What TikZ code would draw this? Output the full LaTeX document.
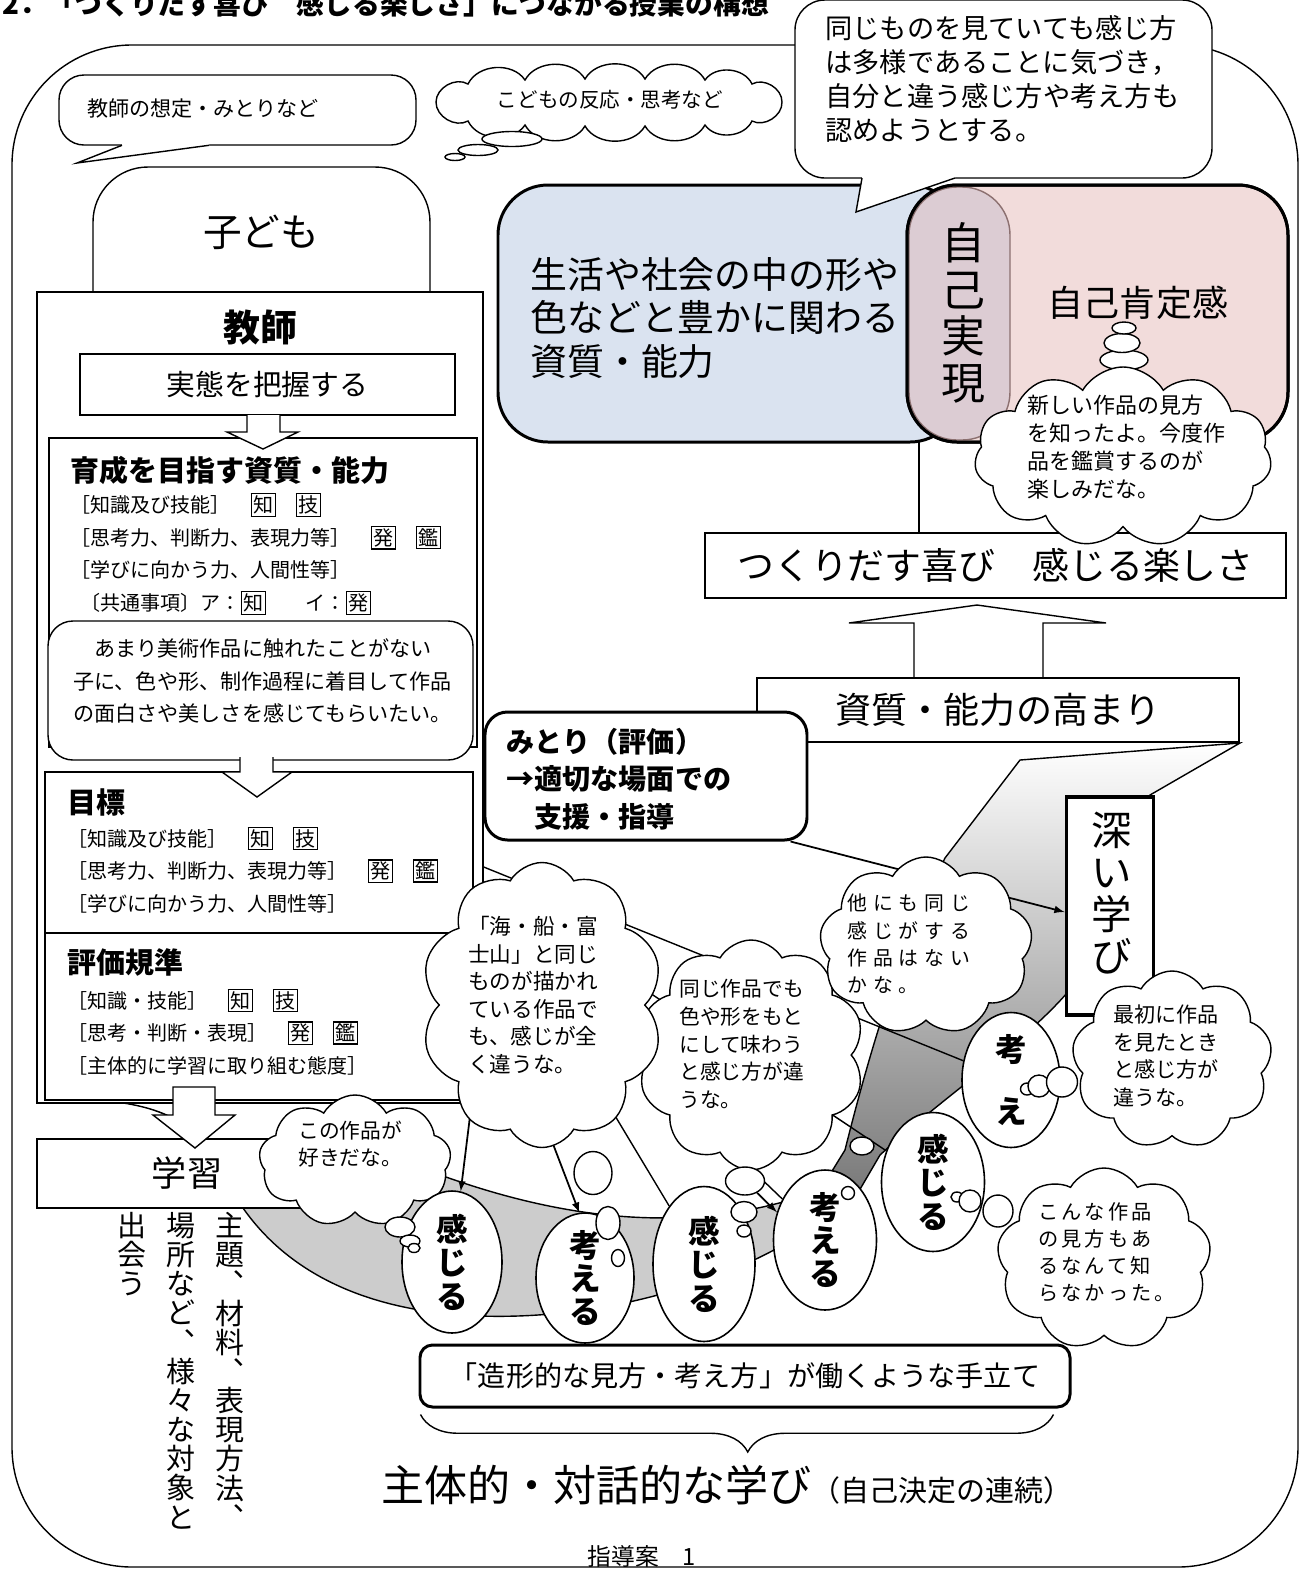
\documentclass[tikz,border=0pt]{standalone}
\usepackage{fontspec}
\setmainfont{Noto Sans CJK JP}
\usetikzlibrary{shapes.symbols,shapes.geometric,decorations.pathreplacing,calc,positioning,backgrounds}

\definecolor{bluebg}{RGB}{218,227,240}
\definecolor{pinkbg}{RGB}{242,220,219}
\definecolor{mauvebg}{RGB}{220,204,211}
\definecolor{mauveline}{RGB}{140,112,112}
\definecolor{riverbg}{RGB}{204,204,204}

\newcommand{\pu}{0.02cm}
\newcommand{\fs}[2]{\fontsize{#1}{#2}\selectfont}
\newcommand{\waku}[1]{{\setlength{\fboxsep}{0.8pt}\setlength{\fboxrule}{0.7pt}\fbox{#1}}}

\tikzset{
  wh/.style 2 args={minimum width=#1*\pu, minimum height=#2*\pu},
  box/.style={draw, fill=white, line width=0.8pt, inner sep=0pt},
  thickbox/.style={draw, fill=white, line width=1.7pt, inner sep=0pt},
  thought/.style={cloud, draw, fill=white, line width=0.8pt, cloud puffs=#1,
    cloud puff arc=120, cloud ignores aspect, inner sep=0pt},
  bub/.style={ellipse, draw, fill=white, line width=0.8pt, inner sep=0pt},
  egg/.style={ellipse, draw, fill=white, line width=0.9pt, inner sep=0pt},
  eggtxt/.style={align=center, inner sep=0pt, font=\bfseries\fs{18}{19}},
  tate/.style={align=center, inner sep=0pt},
  lefttxt/.style={anchor=west, align=left, inner sep=0pt},
  listtxt/.style={lefttxt, font=\fs{11.4}{18.6}},
  cloudtxt/.style={lefttxt, font=\fs{11.8}{15.7}},
  hollow/.style={draw, fill=white, line width=0.8pt},
  link/.style={line width=0.8pt},
  puff/.style={bend left=60},
  pointer/.style={-latex, line width=1pt},
}

\begin{document}
\begin{tikzpicture}[x=\pu, y=-\pu]
\useasboundingbox (0,0) rectangle (1301,1570);

% heading and frame
\node[lefttxt, font=\bfseries\fs{15.8}{15.8}] (title) at (2,4) {2．「つくりだす喜び　感じる楽しさ」につながる授業の構想};
\draw[link, rounded corners=2.4cm] (12,45) rectangle (1298,1567);

% top callouts
\node[box, rounded corners=0.5cm, wh={357}{70}] (yosou) at (237.5,110) {};
\fill[white] (122,140) -- (122,146) -- (77,163) -- (209,146) -- (209,140) -- cycle;
\draw[link] (122,145.3) -- (77,163) -- (209,145.3);
\node[font=\fs{12}{12}] (yosouTxt) at (203,109) {教師の想定・みとりなど};

\draw[link, fill=white] (436,102) to[puff] (468,84) to[puff] (525,80) to[puff] (585,79)
  to[puff] (645,79) to[puff] (705,80) to[puff] (752,84) to[puff] (782,102)
  to[puff] (752,121) to[puff] (705,125) to[puff] (645,126) to[puff] (585,126)
  to[puff] (525,125) to[puff] (468,121) to[puff] (436,102) -- cycle;
\node[font=\fs{11.7}{11.7}] (hannouTxt) at (610,100) {こどもの反応・思考など};
\node[bub, wh={60}{15}] (hb1) at (512,139) {};
\node[bub, wh={40}{11}] (hb2) at (478,150) {};
\node[bub, wh={20}{7}] (hb3) at (455,157) {};

% child / teacher column
\draw[box, rounded corners=1.1cm] (93,292) -- (93,167) -- (430,167) -- (430,292);
\node[font=\fs{22}{22}] (kodomo) at (261,232) {子ども};
\node[box, wh={446}{811}] (kyoushi) at (260,697.5) {};
\node[font=\bfseries\fs{21}{21}] (kyoushiTtl) at (260,328) {教師};
\node[box, wh={375}{61}, font=\fs{16.4}{16.4}] (jittai) at (267.5,384.5) {実態を把握する};

\node[box, wh={428}{309}] (ikusei) at (263,592.5) {};
\draw[hollow] (247,415) -- (247,432) -- (227,432) -- (263,449) -- (298,432) -- (280,432) -- (280,415);
\node[lefttxt, font=\bfseries\fs{16.5}{16.5}] (ikuseiTtl) at (70,470) {育成を目指す資質・能力};
\node[listtxt] (ikuseiTxt) at (70,554) {［知識及び技能］\quad\waku{知}\quad\waku{技}\\［思考力、判断力、表現力等］\quad\waku{発}\quad\waku{鑑}\\［学びに向かう力、人間性等］\\\hspace{0.5em}〔共通事項〕ア：\waku{知}　　イ：\waku{発}};

\node[box, rounded corners=0.5cm, wh={425}{139}] (negai) at (260.5,690.5) {};
\node[lefttxt, font=\fs{12}{18.4}] (negaiTxt) at (73,681) {　あまり美術作品に触れたことがない\\子に、色や形、制作過程に着目して作品\\の面白さや美しさを感じてもらいたい。};

\node[box, wh={428}{161}] (mokuhyou) at (259,852.5) {};
\draw[hollow] (240,757) -- (240,772) -- (222,772) -- (257,797) -- (292,772) -- (273,772) -- (273,757);
\node[lefttxt, font=\bfseries\fs{16.5}{16.5}] (mokuhyouTtl) at (67,802) {目標};
\node[listtxt] (mokuhyouTxt) at (67,870) {［知識及び技能］\quad\waku{知}\quad\waku{技}\\［思考力、判断力、表現力等］\quad\waku{発}\quad\waku{鑑}\\［学びに向かう力、人間性等］};

\node[box, wh={428}{167}] (kijun) at (259,1016.5) {};
\node[lefttxt, font=\bfseries\fs{16.5}{16.5}] (kijunTtl) at (67,962) {評価規準};
\node[listtxt] (kijunTxt) at (67,1032) {［知識・技能］\quad\waku{知}\quad\waku{技}\\［思考・判断・表現］\quad\waku{発}\quad\waku{鑑}\\［主体的に学習に取り組む態度］};

\node[box, wh={263}{69}] (gakushu) at (168.5,1173.5) {};
\node[font=\fs{20}{20}] (gakushuTxt) at (187,1173) {学習};
\draw[hollow] (173,1087) -- (173,1115) -- (153,1115) -- (195,1148) -- (235,1115) -- (215,1115) -- (215,1087) -- cycle;

% vertical notes
\node[tate, anchor=north, font=\fs{16.5}{16.6}] (shudai1) at (230,1212) {主\\題\\︑\\材\\料\\︑\\表\\現\\方\\法\\︑};
\node[tate, anchor=north, font=\fs{16.5}{16.6}] (shudai2) at (181,1212) {場\\所\\な\\ど\\︑\\様\\々\\な\\対\\象\\と};
\node[tate, anchor=north, font=\fs{16.5}{16.6}] (shudai3) at (132,1212) {出\\会\\う};

% upper right: abilities and self-realisation
\node[thickbox, fill=bluebg, rounded corners=1cm, wh={462}{257}] (shishitsu) at (729,313.5) {};
\node[thickbox, fill=pinkbg, rounded corners=1cm, wh={381}{257}] (kotei) at (1097.5,313.5) {};
\node[fill=mauvebg, draw=mauveline, line width=0.8pt, rounded corners=0.96cm, inner sep=0pt, wh={101}{253}] (jiko) at (959.5,313.5) {};
\node[draw, line width=1.7pt, rounded corners=1cm, inner sep=0pt, wh={381}{257}] (koteiRim) at (kotei) {};
\node[lefttxt, font=\fs{21}{24.5}] (shishitsuTxt) at (530,318) {生活や社会の中の形や\\色などと豊かに関わる\\資質・能力};
\node[tate, font=\fs{25}{26.6}] (jikoTxt) at (963,313) {自\\己\\実\\現};
\node[font=\fs{20.5}{20.5}] (koteiTxt) at (1138,303) {自己肯定感};

\node[box, rounded corners=0.6cm, wh={417}{178}] (kizuki) at (1003.5,89) {};
\fill[white] (862,172) -- (862,178) -- (856,212) -- (955,178) -- (955,172) -- cycle;
\draw[link] (862,178) -- (856,212) -- (955,178);
\node[lefttxt, font=\fs{15.5}{19.5}] (kizukiTxt) at (825,79) {同じものを見ていても感じ方\\は多様であることに気づき，\\自分と違う感じ方や考え方も\\認めようとする。};

\node[box, wh={581}{65}, font=\fs{21}{21}] (tsukuri) at (995.5,565.5) {つくりだす喜び　感じる楽しさ};
\coordinate (jikoFoot) at (919,442);
\draw[link] (jikoFoot) -- (jikoFoot |- tsukuri.north);

\node[bub, wh={48}{20}] (ab3) at (1124,360) {};
\node[bub, wh={36}{19}] (ab2) at (1122,343) {};
\node[bub, wh={24}{12}] (ab1) at (1124,328) {};
\node[thought=11, wh={297}{180}] (atarashii) at (1123,457) {};
\node[lefttxt, font=\fs{12.5}{16}] (atarashiiTxt) at (1027,447) {新しい作品の見方\\を知ったよ。今度作\\品を鑑賞するのが\\楽しみだな。};

\draw[hollow] (914,678) -- (914,623) -- (849,623) -- (977,605) -- (1106,623) -- (1043,623) -- (1043,678);
\node[box, wh={482}{64}, font=\fs{20.5}{20.5}] (takamari) at (998,710) {資質・能力の高まり};

\node[thickbox, rounded corners=0.45cm, wh={322}{128}] (mitori) at (646,776) {};
\node[lefttxt, font=\bfseries\fs{16}{21.2}] (mitoriTxt) at (506,779) {みとり（評価）\\→適切な場面での\\　支援・指導};

\node[draw, fill=white, line width=2.2pt, inner sep=0pt, wh={87}{218}] (fukai) at (1110,906) {};
\node[tate, font=\fs{23}{23.8}] (fukaiTxt) at (1112,893) {深\\い\\学\\び};

% thought clouds
\node[thought=9, wh={192}{132}] (kono) at (355,1161) {};
\node[cloudtxt] (konoTxt) at (298,1144) {この作品が\\好きだな。};
\node[thought=10, wh={227}{230}] (onaji) at (751,1055) {};
\node[cloudtxt] (onajiTxt) at (679,1044) {同じ作品でも\\色や形をもと\\にして味わう\\と感じ方が違\\うな。};
\node[thought=10, wh={242}{285}] (umi) at (542,1005) {};
\node[cloudtxt, font=\fs{12.3}{15.7}] (umiTxt) at (468,995) {「海・船・富\\士山」と同じ\\ものが描かれ\\ている作品で\\も、感じが全\\く違うな。};
\node[thought=9, wh={213}{178}] (hoka) at (926,946) {};
\node[cloudtxt, font=\fs{11.3}{15.5}\addfontfeature{LetterSpace=30}] (hokaTxt) at (847,944) {他にも同じ\\感じがする\\作品はない\\かな。};
\node[thought=9, wh={200}{178}] (saisho) at (1172,1060) {};
\node[cloudtxt, font=\fs{12}{15.7}] (saishoTxt) at (1113,1056) {最初に作品\\を見たとき\\と感じ方が\\違うな。};
\node[thought=9, wh={214}{182}] (konna) at (1104,1259) {};
\node[cloudtxt, font=\fs{11.5}{15.3}\addfontfeature{LetterSpace=15}] (konnaTxt) at (1038,1252) {こんな作品\\の見方もあ\\るなんて知\\らなかった。};

% feeling / thinking eggs
\node[egg, wh={98}{135}] (kangae3) at (1011,1080) {};
\node[eggtxt, font=\bfseries\fs{18}{35.7}] (kangae3t) at (kangae3) {考\\え};
\node[egg, wh={100}{142}] (kanjiru1) at (452,1262) {};
\node[eggtxt] (kanjiru1t) at (kanjiru1) {感\\じ\\る};
\node[egg, wh={98}{130}] (kangaeru1) at (585,1278) {};
\node[eggtxt] (kangaeru1t) at (kangaeru1) {考\\え\\る};
\node[egg, wh={102}{155}] (kanjiru2) at (704,1264) {};
\node[eggtxt] (kanjiru2t) at (kanjiru2) {感\\じ\\る};
\node[egg, wh={103}{140}] (kangaeru2) at (825,1240) {};
\node[eggtxt] (kangaeru2t) at (kangaeru2) {考\\え\\る};
\node[egg, wh={103}{139}] (kanjiru3) at (933,1182) {};
\node[eggtxt] (kanjiru3t) at (kanjiru3) {感\\じ\\る};

% small bubbles
\node[bub, wh={30}{20}] (kb1) at (400,1227) {};
\node[bub, wh={20}{12}] (kb2) at (410,1241) {};
\node[bub, wh={12}{9}] (kb3) at (414,1248) {};
\node[bub, wh={38}{43}] (ub1) at (593,1173) {};
\node[bub, wh={24}{33}] (ub2) at (608,1223) {};
\node[bub, wh={13}{17}] (ub3) at (618,1258) {};
\node[bub, wh={39}{28}] (ob1) at (745,1181) {};
\node[bub, wh={26}{21}] (ob2) at (744,1212) {};
\node[bub, wh={14}{12}] (ob3) at (744,1231) {};
\node[bub, wh={13}{13}] (ob4) at (848,1193) {};
\node[bub, wh={24}{18}] (rb1) at (862,1146) {};
\node[bub, wh={12}{10}] (nb3) at (957,1197) {};
\node[bub, wh={22}{22}] (nb2) at (970,1201) {};
\node[bub, wh={30}{32}] (nb1) at (998,1211) {};
\node[bub, wh={13}{12}] (sb3) at (1027,1089) {};
\node[bub, wh={22}{22}] (sb2) at (1039,1086) {};
\node[bub, wh={31}{30}] (sb1) at (1062,1082) {};

% bottom
\node[draw, fill=white, line width=1.7pt, rounded corners=0.25cm, inner sep=0pt, wh={650}{62}, font=\fs{16}{16}] (zoukei) at (745,1376) {「造形的な見方・考え方」が働くような手立て};
\draw[link, decorate, decoration={brace, mirror, amplitude=0.75cm, aspect=0.517}] ($(zoukei.south west)+(2,6)$) -- ($(zoukei.south east)+(-18,6)$);
\node[inner sep=0pt] (shutai) at (727,1485) {{\fs{24.5}{24.5}主体的・対話的な学び}{\fs{16.5}{16.5}（自己決定の連続）}};
\node[font=\fs{13.5}{13.5}] (footer) at (642,1556) {指導案　1};

% river, band and links underneath
\coordinate (k1) at (kyoushi.east |- 0,867);
\coordinate (k2) at (kyoushi.east |- 0,882);
\coordinate (k3) at (kyoushi.east |- 0,897);
\coordinate (k4) at (kyoushi.east |- 0,912);
\coordinate (umiFoot1) at (472,1100);
\coordinate (umiFoot2) at (540,1110);
\coordinate (mitoriFoot) at ($(mitori.south east)+(-18,0)$);
\begin{pgfonlayer}{background}
\draw[link, fill=riverbg] (117,1102) .. controls (145,1106) and (165,1112) .. (185,1125)
  .. controls (210,1145) and (225,1180) .. (243,1208) .. controls (290,1275) and (370,1312) .. (480,1316)
  .. controls (600,1320) and (720,1285) .. (800,1235) -- (790,1200)
  .. controls (700,1226) and (590,1228) .. (446,1177) .. controls (360,1152) and (280,1150) .. (215,1150)
  -- (186,1126) .. controls (165,1112) and (145,1106) .. (117,1102) -- cycle;
\shadedraw[link, top color=white, bottom color=black!55] (1020,760) -- (1240,743) -- (1150,795) -- (1090,960) .. controls (1060,1020) and (950,1090) .. (880,1155) -- (845,1215) -- (805,1215) -- (845,1150) .. controls (870,1050) and (900,950) .. (945,858) -- cycle;
\draw[link] (k1) -- (kangae3);
\draw[link] (k2) -- (kanjiru3);
\draw[link] (k3) -- (kanjiru2);
\draw[link] (k4) -- (kangaeru2);
\draw[pointer] (umiFoot1) -- (kanjiru1);
\draw[pointer] (umiFoot2) -- (kangaeru1.95);
\draw[pointer] (ob1) -- (kangaeru2.150);
\draw[pointer] (mitoriFoot) -- (fukai.west |- 0,912);
\end{pgfonlayer}
\end{tikzpicture}
\end{document}
